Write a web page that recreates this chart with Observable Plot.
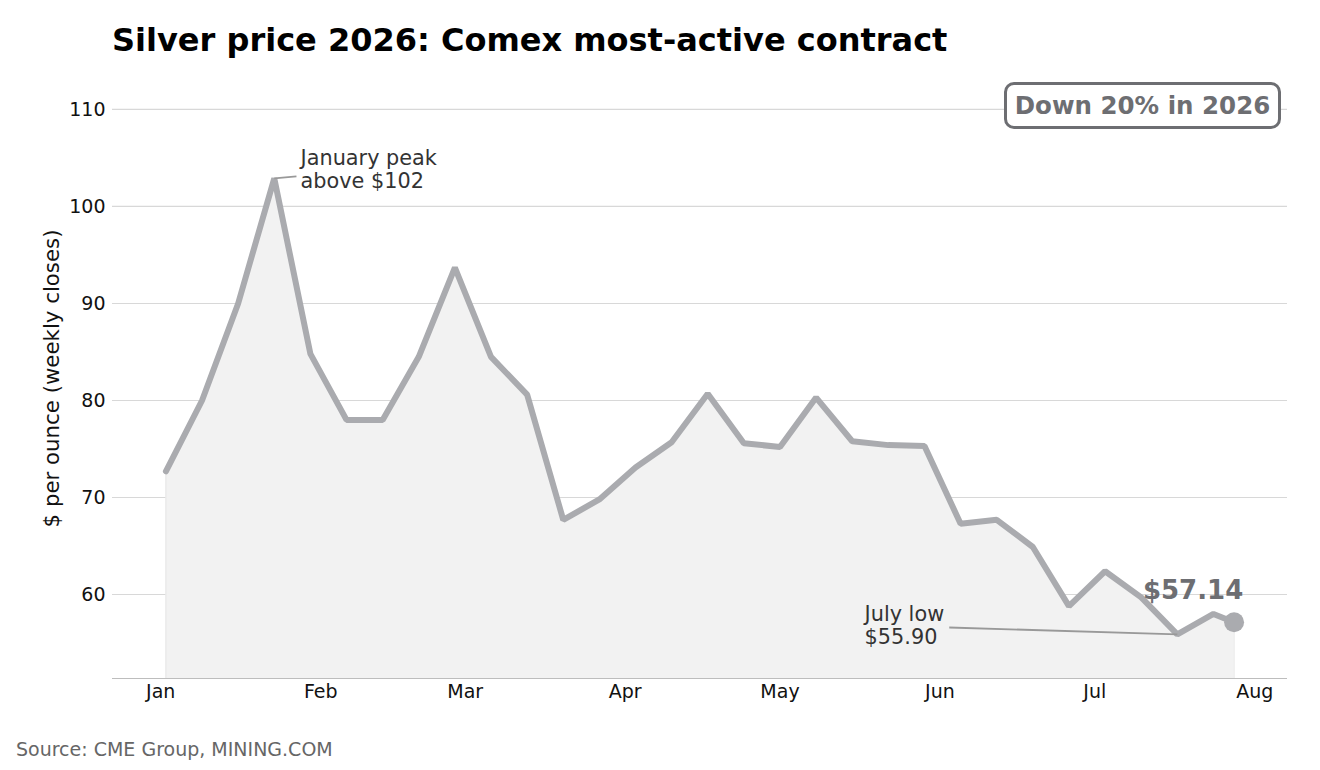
<!DOCTYPE html>
<html>
<head>
<meta charset="utf-8">
<script src="https://cdn.jsdelivr.net/npm/d3@7"></script>
<script src="https://cdn.jsdelivr.net/npm/@observablehq/plot@0.6"></script>
<style>
  body { margin: 0; background: #fff; font-family: "DejaVu Sans", sans-serif; }
  #wrap { position: relative; width: 1320px; height: 770px; background: #fff; }
  #chart { position: absolute; left: 0; top: 0; }
  #title { position: absolute; left: 112px; top: 21px; font-size: 32px; font-weight: bold; color: #000; white-space: nowrap; }
  #badge { position: absolute; left: 1004px; top: 82px; width: 277px; height: 47px; box-sizing: border-box;
           border: 3px solid #6d6e72; border-radius: 10px; background: #fff;
           display: flex; align-items: center; justify-content: center;
           font-size: 24.5px; font-weight: bold; color: #6d6e72; white-space: nowrap; }
  #source { position: absolute; left: 16px; top: 738px; font-size: 19px; color: #666; white-space: nowrap; }
</style>
</head>
<body>
<div id="wrap">
  <div id="chart"></div>
  <div id="title">Silver price 2026: Comex most-active contract</div>
  <div id="badge">Down 20% in 2026</div>
  <div id="source">Source: CME Group, MINING.COM</div>
</div>
<script>
// Weekly closing prices, Comex most-active silver contract ($/oz)
const weeks = [
  "2026-01-02", "2026-01-09", "2026-01-16", "2026-01-23", "2026-01-30",
  "2026-02-06", "2026-02-13", "2026-02-20", "2026-02-27",
  "2026-03-06", "2026-03-13", "2026-03-20", "2026-03-27",
  "2026-04-03", "2026-04-10", "2026-04-17", "2026-04-24",
  "2026-05-01", "2026-05-08", "2026-05-15", "2026-05-22", "2026-05-29",
  "2026-06-05", "2026-06-12", "2026-06-19", "2026-06-26",
  "2026-07-03", "2026-07-10", "2026-07-17", "2026-07-24", "2026-07-28"
];
const closes = [
  72.7, 80.0, 90.0, 102.9, 84.8,
  78.0, 78.0, 84.5, 93.7,
  84.5, 80.6, 67.7, 69.8,
  73.1, 75.7, 80.7, 75.6,
  75.2, 80.3, 75.8, 75.4, 75.3,
  67.3, 67.7, 64.9, 58.8,
  62.4, 59.7, 55.9, 58.0, 57.14
];
const yTicks = [60, 70, 80, 90, 100, 110];

const data = weeks.map((w, i) => ({date: new Date(w), close: closes[i]}));

// Axis extents: 5% padding on dates, y from ~8% below the low to 10% above the high
const first = data[0].date, last = data[data.length - 1].date;
const pad = 0.05 * (last - first);
const xDomain = [new Date(+first - pad), new Date(+last + pad)];
const lowPt = data.reduce((a, b) => (b.close < a.close ? b : a));
const highPt = data.reduce((a, b) => (b.close > a.close ? b : a));
const lastPt = data[data.length - 1];
const yMin = lowPt.close * 0.9185;
const yMax = highPt.close * 1.1;

const DAY = 864e5;
// Callouts: text anchored in data space, connector runs from the point to the text
const callouts = [
  {text: "January peak\nabove $" + Math.floor(highPt.close - 0.5),
   date: highPt.date, close: highPt.close,
   tx: new Date(+highPt.date + 5.1 * DAY), ty: highPt.close + 0.95,
   lx: new Date(+highPt.date + 4.3 * DAY), ly: highPt.close + 0.2},
  {text: "July low\n$" + lowPt.close.toFixed(2),
   date: lowPt.date, close: lowPt.close,
   tx: new Date(+lowPt.date - 60.6 * DAY), ty: lowPt.close + 0.95,
   lx: new Date(+lowPt.date - 44.2 * DAY), ly: lowPt.close + 0.7}
];

const chart = Plot.plot({
  width: 1320,
  height: 712,
  marginLeft: 112,
  marginRight: 33,
  marginTop: 78,
  marginBottom: 34,
  style: {fontFamily: "DejaVu Sans, sans-serif", fontSize: "19px", color: "#111", background: "transparent"},
  x: {type: "utc", domain: xDomain, label: null},
  y: {domain: [yMin, yMax], label: null},
  marks: [
    Plot.gridY(yTicks, {stroke: "#d8d8d8", strokeOpacity: 1, strokeWidth: 1.2}),
    Plot.areaY(data, {x: "date", y: "close", y1: yMin, fill: "#f2f2f2"}),
    Plot.ruleX([first], {y1: yMin, y2: data[0].close, stroke: "#e6e6e6", strokeWidth: 1}),
    Plot.ruleX([last], {y1: yMin, y2: lastPt.close, stroke: "#e6e6e6", strokeWidth: 1}),
    Plot.ruleY([yMin], {stroke: "#bdbdbd", strokeWidth: 1.2}),
    Plot.axisX(d3.utcMonth.range(new Date("2026-01-01"), new Date("2026-08-02")), {
      tickFormat: d3.utcFormat("%b"), tickSize: 0, tickPadding: 6, fontSize: 19, fill: "#111", label: null
    }),
    Plot.axisY(yTicks, {tickSize: 0, tickPadding: 7, fontSize: 19, fill: "#111", label: null}),
    Plot.text(["$ per ounce (weekly closes)"], {
      frameAnchor: "left", textAnchor: "middle", dx: -60, rotate: -90, fontSize: 21.3, fill: "#111"
    }),
    Plot.line(data, {x: "date", y: "close", stroke: "#aaabaf", strokeWidth: 6, strokeLinejoin: "miter"}),
    Plot.link(callouts, {x1: "date", y1: "close", x2: "lx", y2: "ly", stroke: "#999", strokeWidth: 1.8}),
    Plot.text(callouts, {x: "tx", y: "ty", text: "text", textAnchor: "start", lineAnchor: "middle",
      lineHeight: 1.12, fontSize: 20.8, fill: "#333"}),
    Plot.dot([lastPt], {x: "date", y: "close", r: 10, fill: "#aaabaf"}),
    Plot.text([lastPt], {x: "date", y: "close", text: d => "$" + d.close.toFixed(2),
      dx: -41, dy: -32, fontSize: 26, fontWeight: "bold", fill: "#6d6e72"})
  ]
});
document.getElementById("chart").appendChild(chart);
</script>
</body>
</html>
